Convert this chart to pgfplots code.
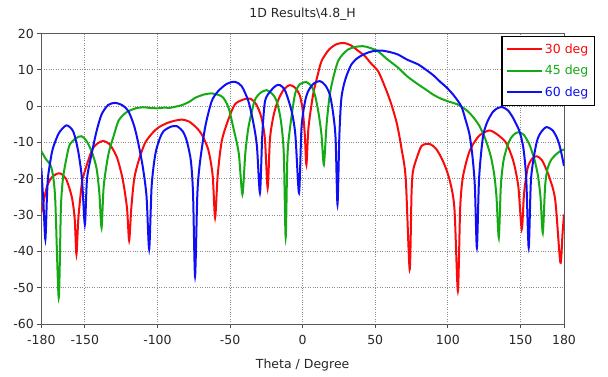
\documentclass[border=0pt]{standalone}
\usepackage{pgfplots}
\pgfplotsset{compat=1.18}
\usepackage{fontspec}
\setmainfont{DejaVu Sans}
\definecolor{cred}{RGB}{250,10,10}
\definecolor{cgreen}{RGB}{20,170,20}
\definecolor{cblue}{RGB}{15,15,245}
\newcommand{\lfont}{\fontsize{12.5}{15}\selectfont}
\begin{document}
\begin{tikzpicture}
\useasboundingbox (-41.3pt,-52pt) rectangle (566.7pt,324pt);
\begin{axis}[
  at={(0pt,0pt)}, anchor=south west,
  scale only axis, width=522.7pt, height=290.5pt,
  xmin=-180, xmax=180, ymin=-60, ymax=20,
  xtick={-180,-150,-100,-50,0,50,100,150,180},
  xticklabels={-180,-150,-100,-50,0,50,100,150,180},
  ytick={-60,-50,-40,-30,-20,-10,0,10,20},
  yticklabels={-60,-50,-40,-30,-20,-10,0,10,20},
  grid=major,
  major grid style={dotted, black!45, line width=1pt},
  tick align=outside, xtick pos=bottom, ytick pos=left,
  major tick length=4pt,
  tick style={black!70, line width=0.8pt},
  axis line style={black!65, line width=1pt},
  tick label style={font=\lfont, text=black!85},
  xticklabel style={yshift=-4pt},
  title={1D Results\textbackslash 4.8\_H},
  title style={at={(0.5,1)}, anchor=base, yshift=10pt, font=\lfont, text=black!85, inner sep=0pt},
  xlabel={Theta / Degree},
  xlabel style={at={(0.5,0)}, anchor=base, yshift=-44pt, font=\lfont, text=black!85, inner sep=0pt},
  legend style={at={(1.0595,0.993)}, anchor=north east, draw=black, line width=1.5pt, fill=white,
    font=\lfont, inner xsep=4pt, inner ysep=5.5pt, row sep=6.6pt},
  legend cell align=left,
  legend image code/.code={\draw[#1, line width=2pt] (0pt,0pt) -- (35pt,0pt);},
  every axis plot/.append style={line width=2pt, smooth, tension=0.45},
]
\addplot[cred] coordinates {
(-180,-29.4) (-176,-22) (-172,-19.3) (-167.3,-18.5) (-163,-20) (-159,-25) (-157,-31) (-155.8,-40.8)
(-154.5,-31) (-152,-21) (-150,-17.9) (-145,-12) (-141,-10.2) (-137.3,-9.6) (-133,-10.5) (-128,-14)
(-124,-20) (-121,-28) (-119.5,-37) (-118,-28) (-116,-20) (-113,-15.1) (-108.5,-10.1) (-103,-7.2)
(-99,-5.8) (-93,-4.6) (-88,-4.0) (-83,-3.7) (-78,-4.3) (-73,-6) (-69.5,-7.8) (-65,-12) (-62,-19)
(-60.3,-30.7) (-58.5,-19) (-55.7,-9.6) (-51,-3.5) (-46.6,0.5) (-41,1.8) (-36.2,2.1) (-32,0.5)
(-28.5,-3) (-26,-9) (-24.1,-22.5) (-22.5,-9) (-20,-2.5) (-17,1.5) (-13,4.6) (-8.7,5.8) (-5,5)
(-2,3) (0,-1) (1.5,-8) (2.6,-16.1) (4,-6) (7.2,3.2) (10,8) (13,12.4) (18,15.5) (23,17) (27.9,17.4)
(33,16.8) (38,15.3) (42.8,13.8) (47,11.8) (52,9.6) (57,5) (61.1,0.5) (65,-5) (68,-11.5) (71,-20)
(73.7,-45) (75,-24) (76,-17.9) (79,-13.8) (81.8,-11) (85,-10.4) (88,-10.5) (92,-11.8) (96.6,-15.1)
(101,-20) (104.5,-28) (106.9,-50.9) (108.5,-28) (110.3,-19.7) (114,-13.5) (117.2,-10.6) (122,-8)
(128.7,-6.7) (134,-7.8) (140.1,-10.1) (145,-15) (148.5,-22) (150.9,-33.9) (152.5,-24) (155,-17)
(158,-14.5) (161.2,-13.8) (165,-15) (170,-19.7) (174,-26) (177.5,-43.1) (179,-35) (180,-29.8)
};
\addlegendentry{\textcolor{cred}{30 deg}}
\addplot[cgreen] coordinates {
(-180,-12.4) (-177,-14.5) (-173,-17) (-170.5,-25) (-168,-52.8) (-166.5,-28) (-165,-19.7) (-162.5,-14)
(-160.4,-10.6) (-156,-8.8) (-152.3,-8.3) (-149,-9.5) (-145.4,-12.4) (-142,-17) (-140,-24) (-138.5,-33.5)
(-137,-22) (-133.8,-13.3) (-130,-8) (-126.9,-4.1) (-123,-2.2) (-120,-1.4) (-115,-0.6) (-110,-0.3)
(-105,-0.5) (-100,-0.6) (-95,-0.4) (-92,-0.5) (-87,-0.1) (-83,0.3) (-78,1.2) (-74,2.3) (-68,3.2)
(-62.6,3.5) (-58,3.1) (-54.6,2.3) (-51,-0.5) (-47.7,-6) (-44,-13) (-41.5,-24.3) (-39.5,-13) (-37.4,-6)
(-35,-1.5) (-32.8,1.8) (-29,3.7) (-24.8,4.4) (-21,3.4) (-17.9,1.4) (-15,-4) (-13,-13) (-11.7,-36.2)
(-10.5,-14) (-8.7,-6) (-5.3,3.2) (-2,6) (2.6,6.6) (6,5.5) (8.4,3.2) (11,-2) (13,-8) (14.6,-16.1)
(16.5,-5) (18.7,3.2) (21.5,8.5) (24.4,12.4) (27.5,14.2) (31.3,15.6) (36,16.3) (41.6,16.5) (46,16.1)
(51.9,15.1) (58,13) (65.7,10.6) (72,8.2) (79.5,6) (84,4.8) (89.8,3.2) (95,2.1) (101,1.2) (106,0.6)
(110,-0.3) (114,-1.5) (118,-3.3) (121.8,-5.5) (125,-8.2) (127.5,-11) (129.8,-14.2) (132,-19)
(133.5,-25) (135.1,-36.2) (136.5,-22) (138.3,-15.1) (141,-11) (143.6,-8.7) (146.5,-7.5) (149.3,-7.2)
(152.5,-8) (156.2,-10.6) (159.5,-14.5) (162,-19) (163.8,-25) (165.4,-34.9) (167,-22) (168.8,-17)
(171.5,-14.6) (174.5,-13.3) (177,-12.5) (180,-11.9)
};
\addlegendentry{\textcolor{cgreen}{45 deg}}
\addplot[cblue] coordinates {
(-180,-17) (-178.5,-27) (-177.2,-36.7) (-176.2,-26) (-175.4,-19.7) (-173.5,-14.5) (-171.9,-11.5)
(-168,-7.5) (-162.7,-5.3) (-158,-7) (-154.6,-12.4) (-152,-20) (-150,-32.6) (-148.5,-20) (-145.4,-13.3)
(-142,-7) (-138.5,-2.3) (-134,0.3) (-129.2,0.9) (-124,0.2) (-120,-1.4) (-116,-5.5) (-113,-10.6)
(-110,-17) (-107.5,-25) (-105.7,-39.4) (-104,-22) (-101.5,-13.3) (-98.5,-9) (-95.8,-6.9) (-91,-5.7)
(-86.7,-5.5) (-82.5,-7) (-79.8,-9.6) (-77,-15) (-75.5,-24) (-74.1,-46.8) (-72.5,-24) (-70.6,-15.1)
(-67,-5.5) (-62.6,1.4) (-58,4.2) (-52,6.2) (-46.6,6.7) (-42,5.5) (-37.4,1.4) (-34,-4.5) (-31.5,-11)
(-29.4,-23.9) (-27.8,-8) (-25.9,1.4) (-22,4.2) (-18.5,5.6) (-15.6,5.8) (-12,4.2) (-7.6,-1.4) (-5,-8)
(-2.5,-23.9) (-0.8,-6) (1.5,1) (3.8,4.1) (7.5,6.2) (11.8,6.9) (15.5,5.8) (18.7,3.2) (21,-2) (22.7,-9)
(24,-27.1) (25.3,-8) (26.7,2.3) (29.5,7.5) (33.6,11.5) (38,13.3) (42.8,14.4) (48,15.1) (54.2,15.3)
(60,14.9) (65.7,14.2) (72,12.8) (79.5,11.5) (85,10) (90,8.5) (95,6.6) (99,5.2) (104,3) (109.2,0)
(112,-3.5) (114.9,-7.8) (117,-14) (118.6,-22) (120,-39) (121.5,-20) (124.1,-8.7) (127,-4.5)
(131,-1.6) (134.5,-0.5) (137.8,-0.3) (141.5,-1.2) (145,-3.3) (149.3,-6.9) (152,-11.5) (154,-20)
(155.7,-39) (157.3,-20) (160.8,-10.6) (163.5,-7.6) (167.7,-5.8) (172,-6.6) (175,-8.6) (176.8,-10.6)
(178.5,-13.5) (180,-16.5)
};
\addlegendentry{\textcolor{cblue}{60 deg}}
\end{axis}
\end{tikzpicture}
\end{document}
